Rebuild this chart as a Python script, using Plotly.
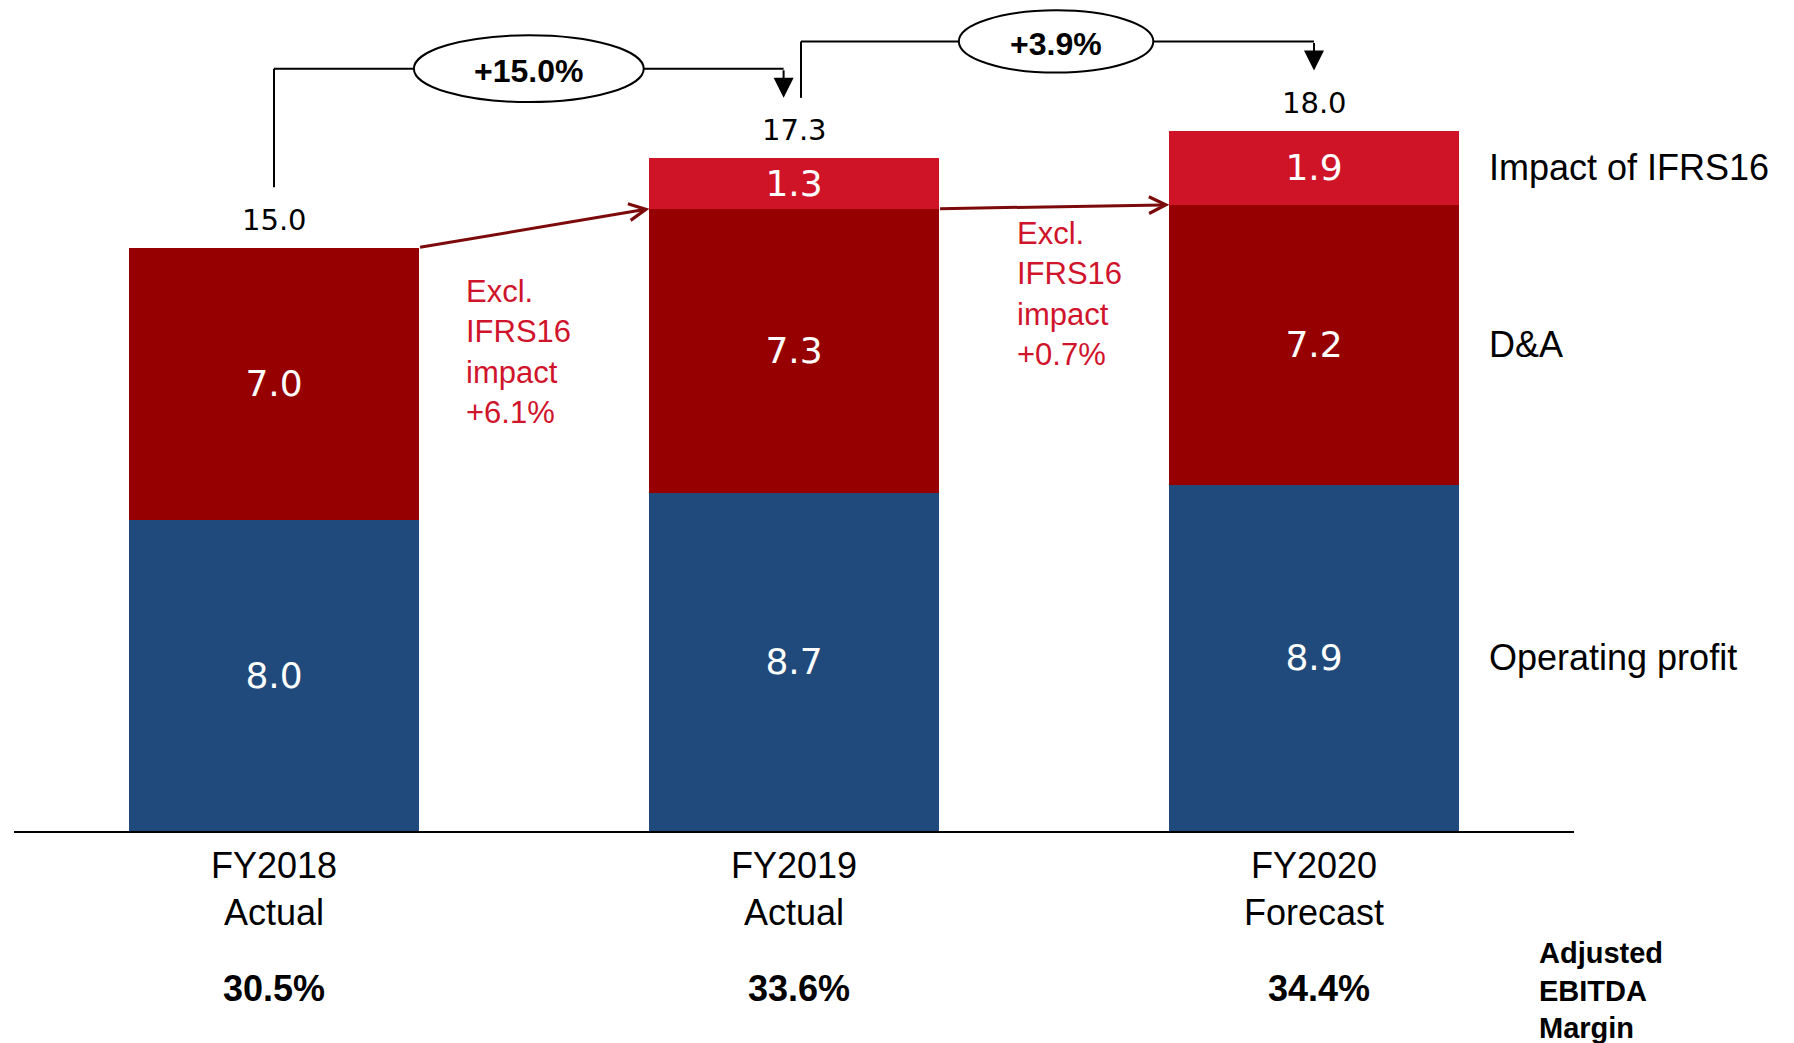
import plotly.graph_objects as go

categories = ["FY2018<br>Actual", "FY2019<br>Actual", "FY2020<br>Forecast"]
operating_profit = [8.0, 8.7, 8.9]
dna = [7.0, 7.3, 7.2]
ifrs16 = [0.0, 1.3, 1.9]
totals = [15.0, 17.3, 18.0]
growth_labels = ["+15.0%", "+3.9%"]
excl_labels = ["+6.1%", "+0.7%"]
margins = ["30.5%", "33.6%", "34.4%"]
series_names = ["Operating profit", "D&A", "Impact of IFRS16"]

BLUE = "#214a7c"
DARK_RED = "#960000"
RED = "#cf1428"
TEXT_RED = "#d0142c"
MAROON = "#7c0a0a"
NUM_FONT = "DejaVu Sans"
LBL_FONT = "Liberation Sans"

YMAX = 21.16


def py(v):
    return v / YMAX


x = list(range(len(categories)))
bw = 0.556

fig = go.Figure()
for vals, col, name in [(operating_profit, BLUE, series_names[0]),
                        (dna, DARK_RED, series_names[1]),
                        (ifrs16, RED, series_names[2])]:
    fig.add_trace(go.Bar(
        x=x, y=vals, width=bw, name=name,
        marker=dict(color=col, line=dict(width=0)),
        text=[f"{v:.1f}" if v > 0 else "" for v in vals],
        textposition="inside", insidetextanchor="middle", textangle=0,
        textfont=dict(family=NUM_FONT, size=36, color="white"),
        hoverinfo="skip",
    ))

ann = []
shapes = []

# totals
for i, t in enumerate(totals):
    ann.append(dict(x=i, y=t + 0.72, xref="x", yref="y", text=f"{t:.1f}",
                    showarrow=False, font=dict(family=NUM_FONT, size=29, color="black")))

# growth brackets
gap = 1.55
br = [
    dict(x0=0, x1=1 - 0.02, ex=0.49, ehw=0.221, ehh=0.86),
    dict(x0=1 + 0.0135, x1=2, ex=1.504, ehw=0.187, ehh=0.8),
]
for k, b in enumerate(br):
    t0, t1 = totals[k], totals[k + 1]
    level = max(t0, t1) + 2.3
    shapes.append(dict(type="line", xref="x", yref="y", x0=b["x0"], x1=b["x0"],
                       y0=t0 + gap, y1=level, line=dict(color="black", width=2)))
    shapes.append(dict(type="line", xref="x", yref="y", x0=b["x0"], x1=b["x1"],
                       y0=level, y1=level, line=dict(color="black", width=2)))
    shapes.append(dict(type="circle", xref="x", yref="y",
                       x0=b["ex"] - b["ehw"], x1=b["ex"] + b["ehw"],
                       y0=level - b["ehh"], y1=level + b["ehh"],
                       fillcolor="white", line=dict(color="black", width=2)))
    ann.append(dict(x=b["x1"], y=t1 + gap, xref="x", yref="y",
                    ax=b["x1"], ay=level, axref="x", ayref="y", text="",
                    showarrow=True, arrowhead=2, arrowsize=2.0, arrowwidth=2,
                    arrowcolor="black", standoff=0))
    ann.append(dict(x=b["ex"], y=level - 0.06, xref="x", yref="y", text=f"<b>{growth_labels[k]}</b>",
                    showarrow=False, font=dict(family=LBL_FONT, size=32, color="black")))

# red excl. arrows
for k in range(2):
    y_start = totals[0] if k == 0 else operating_profit[k] + dna[k]
    y_end = operating_profit[k + 1] + dna[k + 1]
    ann.append(dict(x=k + 1 - bw / 2, y=y_end, xref="x", yref="y",
                    ax=k + bw / 2, ay=y_start, axref="x", ayref="y", text="",
                    showarrow=True, arrowhead=5, arrowsize=1.1, arrowwidth=3,
                    arrowcolor=MAROON, standoff=0))

excl_pos = [(0.366, 12.31), (1.425, 13.8)]
for k, (ex, ey) in enumerate(excl_pos):
    ann.append(dict(x=ex, y=ey, xref="x", yref="y", xanchor="left", align="left",
                    text=f"Excl.<br>IFRS16<br>impact<br>{excl_labels[k]}", showarrow=False,
                    font=dict(family=LBL_FONT, size=31, color=TEXT_RED)))

# right-side series labels at last bar segment mids
last = len(categories) - 1
mids = [operating_profit[last] / 2,
        operating_profit[last] + dna[last] / 2,
        operating_profit[last] + dna[last] + ifrs16[last] / 2]
for name, m in zip(series_names, mids):
    ann.append(dict(x=2.333, y=m, xref="x", yref="y", xanchor="left", text=name,
                    showarrow=False, font=dict(family=LBL_FONT, size=36, color="black")))

# category labels (below the axis -> paper y)
for i, c in enumerate(categories):
    ann.append(dict(x=i, y=py(-1.5), xref="x", yref="paper", yanchor="middle", text=c,
                    showarrow=False, font=dict(family=LBL_FONT, size=36, color="black")))

# margins
for i, m in enumerate(margins):
    ann.append(dict(x=i + (0.01 if i else 0), y=py(-4.05), xref="x", yref="paper", yanchor="middle",
                    text=f"<b>{m}</b>", showarrow=False,
                    font=dict(family=LBL_FONT, size=36, color="black")))
ann.append(dict(x=2.429, y=py(-4.09), xref="x", yref="paper", xanchor="left", yanchor="middle",
                align="left", text="<b>Adjusted<br>EBITDA<br>Margin</b>", showarrow=False,
                font=dict(family=LBL_FONT, size=29, color="black")))

fig.update_layout(
    width=1794, height=1043,
    margin=dict(l=6, r=228, t=0, b=220),
    barmode="stack", showlegend=False,
    paper_bgcolor="white", plot_bgcolor="white",
    uniformtext=dict(minsize=36, mode="show"),
    xaxis=dict(range=[-0.5, 2.5], showline=True, linecolor="black", linewidth=2,
               showticklabels=False, ticks="", showgrid=False, zeroline=False, fixedrange=True),
    yaxis=dict(range=[0, YMAX], visible=False, showgrid=False, zeroline=False, fixedrange=True),
    annotations=ann, shapes=shapes,
)

fig.write_html("out.html")
